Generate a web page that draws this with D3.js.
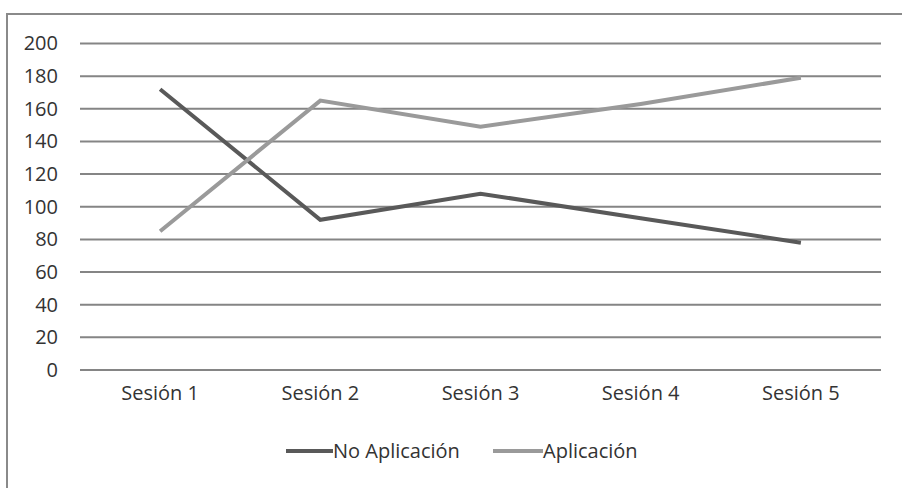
<!DOCTYPE html>
<html>
<head>
<meta charset="utf-8">
<script src="https://cdn.jsdelivr.net/npm/d3@7"></script>
<style>
  html, body { margin: 0; padding: 0; background: #fff; }
  svg { display: block; }
  text { font-family: "Open Sans", "Noto Sans", sans-serif; fill: #333; }
</style>
</head>
<body>
<svg id="chart" width="902" height="488"></svg>
<script>
// Sessions on the x axis
const sessions = ["Sesión 1", "Sesión 2", "Sesión 3", "Sesión 4", "Sesión 5"];
// Series values per session
const noAplicacion = [172, 92, 108, 93, 78];
const aplicacion = [85, 165, 149, 163, 179];
// Y axis ticks
const yTicks = [0, 20, 40, 60, 80, 100, 120, 140, 160, 180, 200];

const series = [
  { name: "No Aplicación", values: noAplicacion, color: "#595959" },
  { name: "Aplicación", values: aplicacion, color: "#9a9a9a" }
];

const svg = d3.select("#chart");
const margin = { left: 80, right: 21, top: 43.5 };
const W = 902, H = 488;
const FS = 20;

// Outer frame (open on the right and bottom edges of the page)
svg.append("path")
  .attr("d", `M7,${H + 5} L7,14 L${W + 5},14`)
  .attr("fill", "none")
  .attr("stroke", "#8a8a8a")
  .attr("stroke-width", 2);

const x = d3.scaleBand()
  .domain(sessions)
  .range([margin.left, W - margin.right]);

const y = d3.scaleLinear()
  .domain([0, 200])
  .range([370, margin.top]);

// Horizontal gridlines
svg.append("g")
  .selectAll("line")
  .data(yTicks)
  .join("line")
  .attr("x1", margin.left)
  .attr("x2", W - margin.right)
  .attr("y1", d => y(d))
  .attr("y2", d => y(d))
  .attr("stroke", "#858585")
  .attr("stroke-width", 2);

// Y axis labels
const yAxis = d3.axisLeft(y).tickValues(yTicks).tickSize(0).tickPadding(0);
const gy = svg.append("g")
  .attr("transform", "translate(58,0)")
  .call(yAxis);
gy.select(".domain").remove();
gy.selectAll("text")
  .attr("font-size", FS)
  .attr("fill", "#333")
  .style("font-family", "\"Open Sans\", sans-serif");

// X axis labels
const xAxis = d3.axisBottom(x).tickSize(0).tickPadding(0);
const gx = svg.append("g")
  .attr("transform", "translate(0,386)")
  .call(xAxis);
gx.select(".domain").remove();
gx.selectAll("text")
  .attr("font-size", FS)
  .attr("fill", "#333")
  .style("font-family", "\"Open Sans\", sans-serif");

// Series lines
const line = d3.line()
  .x((d, i) => x(sessions[i]) + x.bandwidth() / 2)
  .y(d => y(d));

svg.append("g")
  .selectAll("path")
  .data(series)
  .join("path")
  .attr("d", d => line(d.values))
  .attr("fill", "none")
  .attr("stroke", d => d.color)
  .attr("stroke-width", 4)
  .attr("stroke-linejoin", "miter");

// Legend
const legendY = 451;
const legend = svg.append("g");
const items = [
  { s: series[0], x0: 286, x1: 333 },
  { s: series[1], x0: 493, x1: 543 }
];
items.forEach(it => {
  legend.append("line")
    .attr("x1", it.x0).attr("x2", it.x1)
    .attr("y1", legendY).attr("y2", legendY)
    .attr("stroke", it.s.color)
    .attr("stroke-width", 4);
  legend.append("text")
    .attr("x", it.x1)
    .attr("y", legendY)
    .attr("dy", "0.35em")
    .attr("font-size", FS)
    .text(it.s.name);
});
</script>
</body>
</html>
